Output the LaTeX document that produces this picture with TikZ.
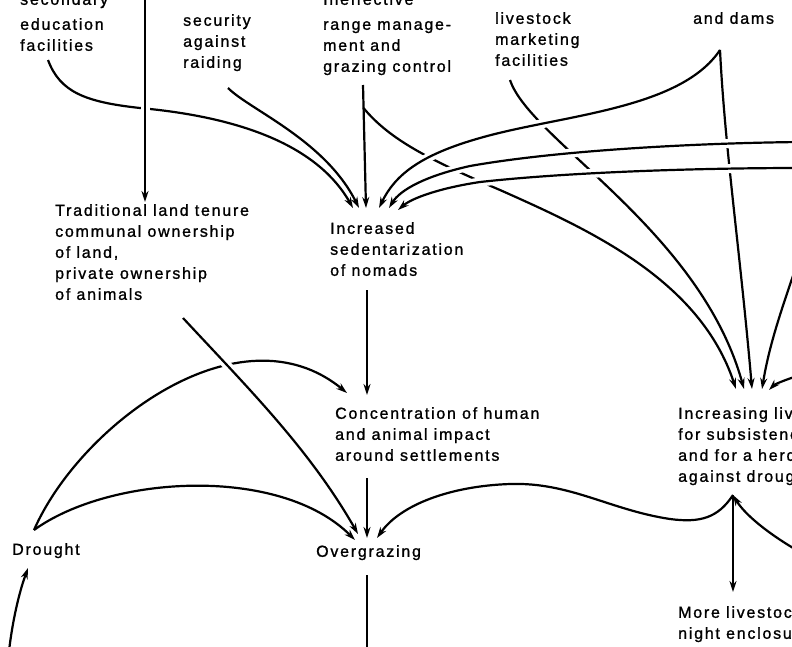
\documentclass[tikz,border=0pt]{standalone}
\usepackage{fontspec}
\setmainfont{Liberation Sans}[LetterSpace=11,FakeBold=1.2]
\usetikzlibrary{arrows.meta}

\tikzset{
  lbl/.style={anchor=north west, inner sep=0pt, align=left, font=\fontsize{16}{21}\selectfont},
  link/.style={line width=2.2pt},
  arr/.style={link, -{Stealth[length=11pt,width=7pt]}},
  gap/.style={white, line width=9pt},
}

\begin{document}
\begin{tikzpicture}[x=1pt,y=-1pt]
  \useasboundingbox (0,0) rectangle (792,646);

  % factors
  \node[lbl] (educ) at (20,-7) {secondary\\[4pt]education\\facilities};
  \node[lbl] (secur) at (183,14) {security\\against\\raiding};
  \node[lbl] (range) at (323,-7) {Ineffective\\[4pt]range manage-\\ment and\\grazing control};
  \node[lbl] (market) at (495,12) {livestock\\marketing\\facilities};
  \node[lbl] (dams) at (693,12) {and dams};
  \node[lbl] (tenure) at (55,204) {Traditional land tenure\\communal ownership\\of land,\\private ownership\\of animals};
  \node[lbl] (sedent) at (330,222) {Increased\\sedentarization\\of nomads};
  \node[lbl] (concen) at (335,407) {Concentration of human\\and animal impact\\around settlements};
  \node[lbl] (herds) at (678,407) {Increasing livestock numbers\\for subsistence\\and for a herd reserve\\against drought};
  \node[lbl] (drought) at (12,543) {Drought};
  \node[lbl] (overgr) at (316,545) {Overgrazing};
  \node[lbl] (enclos) at (678,606) {More livestock in\\night enclosures};

  % ports
  \coordinate (educ-out) at (48,60);
  \coordinate (secur-out) at (228,88);
  \coordinate (range-out) at (363,85);
  \coordinate (range-fork) at (363.5,108);
  \coordinate (market-out) at (510,80);
  \coordinate (dams-out) at (720,50);
  \coordinate (tenure-in) at (145,202);
  \coordinate (tenure-out) at (183,318);
  \coordinate (sedent-in) at (367,208);
  \coordinate (sedent-out) at (367,290);
  \coordinate (concen-in) at (367,395);
  \coordinate (concen-out) at (367,478);
  \coordinate (herds-in) at (750,389);
  \coordinate (herds-out) at (733,495);
  \coordinate (overgr-in) at (367,538);
  \coordinate (overgr-out) at (367,575);
  \coordinate (drought-out) at (34,530);
  \coordinate (drought-in) at (28,568);
  \coordinate (enclos-in) at (733,592);
  % loose ends off the sheet
  \coordinate (north-in) at (145,-10);
  \coordinate (east1) at (800,142);
  \coordinate (east2) at (800,168);
  \coordinate (east3) at (800,255);
  \coordinate (east4) at (800,375);
  \coordinate (east5) at (800,552);
  \coordinate (south1) at (367,660);
  \coordinate (south2) at (8,660);

  % into sedentarization, from the left
  \draw[arr] (educ-out) .. controls (60,92) and (85,102) .. (140,108) .. controls (250,118) and (320,150) .. ([xshift=-14pt]sedent-in);
  \draw[arr] (secur-out) .. controls (250,110) and (325,140) .. ([xshift=-8pt]sedent-in);
  \draw[arr] (range-out) -- ([xshift=-1pt]sedent-in);

  % land tenure, over the education line
  \begin{scope}
    \clip (135,95) rectangle (155,125);
    \draw[gap] (north-in) -- (tenure-in);
  \end{scope}
  \draw[arr] (north-in) -- (tenure-in);

  % into the herd node
  \draw[arr] (range-fork) .. controls (390,140) and (430,160) .. (500,190) .. controls (590,230) and (700,280) .. ([xshift=-14pt]herds-in);
  \draw[arr] (market-out) .. controls (530,140) and (700,230) .. ([xshift=-6pt]herds-in);
  \draw[arr] (dams-out) .. controls (725,150) and (740,250) .. ([xshift=2pt]herds-in);
  \draw[arr] (east3) .. controls (785,300) and (770,340) .. ([xshift=12pt]herds-in);
  \draw[arr] (east4) .. controls (785,380) and (775,384) .. ([xshift=19pt,yshift=-1pt]herds-in);

  % long arcs into sedentarization, passing over
  \begin{scope}
    \clip (412,95) rectangle (760,200);
    \draw[gap] (dams-out) .. controls (680,110) and (560,115) .. (480,138) .. controls (420,155) and (395,175) .. ([xshift=12pt]sedent-in);
    \draw[gap] (east1) .. controls (700,143) and (560,150) .. (470,166) .. controls (425,176) and (400,190) .. ([xshift=22pt]sedent-in);
    \draw[gap] (east2) .. controls (700,168) and (570,172) .. (480,182) .. controls (440,188) and (412,198) .. ([xshift=31pt,yshift=-2pt]sedent-in);
  \end{scope}
  \draw[arr] (dams-out) .. controls (680,110) and (560,115) .. (480,138) .. controls (420,155) and (395,175) .. ([xshift=12pt]sedent-in);
  \draw[arr] (east1) .. controls (700,143) and (560,150) .. (470,166) .. controls (425,176) and (400,190) .. ([xshift=22pt]sedent-in);
  \draw[arr] (east2) .. controls (700,168) and (570,172) .. (480,182) .. controls (440,188) and (412,198) .. ([xshift=31pt,yshift=-2pt]sedent-in);

  % lower half
  \draw[arr] (sedent-out) -- (concen-in);
  \draw[arr] (drought-out) .. controls (80,425) and (240,305) .. ([xshift=-20pt,yshift=2pt]concen-in);
  \begin{scope}
    \clip (195,350) rectangle (245,400);
    \draw[gap] (tenure-out) .. controls (250,390) and (310,450) .. ([xshift=-9pt,yshift=4pt]overgr-in);
  \end{scope}
  \draw[arr] (tenure-out) .. controls (250,390) and (310,450) .. ([xshift=-9pt,yshift=4pt]overgr-in);
  \draw[arr] (drought-out) .. controls (110,475) and (280,465) .. ([xshift=-12pt,yshift=-2pt]overgr-in);
  \draw[arr] (concen-out) -- (overgr-in);
  \draw[arr] (herds-out) .. controls (718,518) and (700,523) .. (670,519) .. controls (610,510) and (570,482) .. (510,484) .. controls (450,486) and (400,505) .. ([xshift=10pt]overgr-in);
  \draw[arr] (east5) .. controls (770,535) and (745,515) .. (herds-out);
  \draw[arr] (herds-out) -- (enclos-in);
  \draw[link] (overgr-out) -- (south1);
  \draw[arr] (south2) .. controls (12,620) and (20,590) .. (drought-in);
\end{tikzpicture}
\end{document}
